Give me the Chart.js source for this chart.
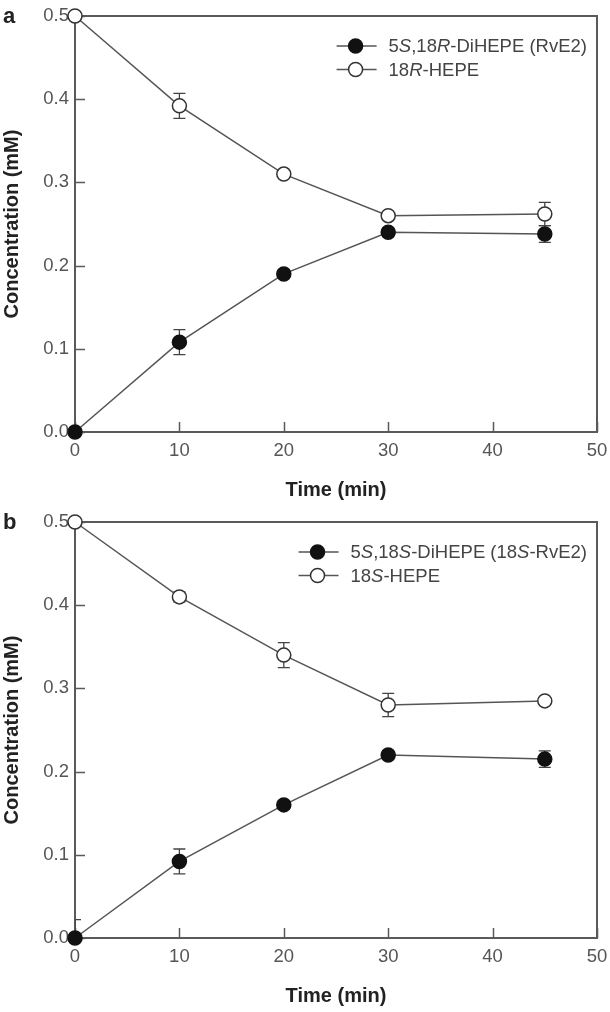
<!DOCTYPE html>
<html>
<head>
<meta charset="utf-8">
<script src="https://cdn.jsdelivr.net/npm/chart.js@4.4.1/dist/chart.umd.min.js"></script>
<style>
  html, body { margin: 0; padding: 0; background: #fff; }
  .panel { position: absolute; left: 0; width: 610px; height: 506px; }
</style>
</head>
<body>
<div class="panel" style="top:0"><canvas id="chartA" width="610" height="506"></canvas></div>
<div class="panel" style="top:506px"><canvas id="chartB" width="610" height="506"></canvas></div>
<script>
// sampling times (min)
const times = [0, 10, 20, 30, 45];

// panel a
const rveA     = [0, 0.108, 0.19, 0.24, 0.238];
const rveAErr  = [0, 0.015, 0.005, 0.005, 0.01];
const hepeA    = [0.5, 0.392, 0.31, 0.26, 0.262];
const hepeAErr = [0, 0.015, 0.004, 0.004, 0.014];
const labelsA  = ["5<i>S</i>,18<i>R</i>-DiHEPE (RvE2)", "18<i>R</i>-HEPE"];

// panel b
const rveB     = [0, 0.092, 0.16, 0.22, 0.215];
const rveBErr  = [0.022, 0.015, 0.005, 0.005, 0.01];
const hepeB    = [0.5, 0.41, 0.34, 0.28, 0.285];
const hepeBErr = [0.003, 0.006, 0.015, 0.014, 0.003];
const labelsB  = ["5<i>S</i>,18<i>S</i>-DiHEPE (18<i>S</i>-RvE2)", "18<i>S</i>-HEPE"];

const xTicks = [0, 10, 20, 30, 40, 50];
const yTicks = [0, 0.1, 0.2, 0.3, 0.4, 0.5];

const FONT = "'Liberation Sans', Arial, Helvetica, sans-serif";
const AXIS = "#5a5a5a";
const LINE = "#555";

// splits "a<i>b</i>c" into [{t, italic}]
const parseRich = (s) =>
  s.split(/(<i>.*?<\/i>)/).filter(Boolean).map((p) =>
    p.startsWith("<i>") ? { t: p.slice(3, -4), italic: true } : { t: p, italic: false });

const richWidth = (ctx, parts, size) =>
  parts.reduce((w, p) => {
    ctx.font = `${p.italic ? "italic " : ""}${size}px ${FONT}`;
    return w + ctx.measureText(p.t).width;
  }, 0);

const drawRich = (ctx, parts, x, y, size) => {
  parts.forEach((p) => {
    ctx.font = `${p.italic ? "italic " : ""}${size}px ${FONT}`;
    ctx.fillText(p.t, x, y);
    x += ctx.measureText(p.t).width;
  });
};

const drawMarker = (ctx, x, y, filled) => {
  ctx.beginPath();
  ctx.arc(x, y, 7, 0, Math.PI * 2);
  ctx.fillStyle = filled ? "#111" : "#fff";
  ctx.fill();
  ctx.lineWidth = 1.5;
  ctx.strokeStyle = filled ? "#111" : "#333";
  ctx.stroke();
};

const makeChart = (id, letter, rve, rveErr, hepe, hepeErr, labels) => {
  const ctx = document.getElementById(id).getContext("2d");

  const decor = {
    id: "decor",
    beforeDatasetsDraw(chart) {
      const { ctx, chartArea: a, scales: { x, y } } = chart;
      ctx.save();
      // frame
      ctx.strokeStyle = AXIS;
      ctx.lineWidth = 2;
      ctx.strokeRect(a.left, a.top, a.right - a.left, a.bottom - a.top);
      // inward ticks
      ctx.lineWidth = 1.5;
      ctx.beginPath();
      xTicks.forEach((v) => {
        const px = Math.round(x.getPixelForValue(v)) + 0.5;
        ctx.moveTo(px, a.bottom);
        ctx.lineTo(px, a.bottom - 10);
      });
      yTicks.forEach((v) => {
        const py = Math.round(y.getPixelForValue(v)) + 0.5;
        ctx.moveTo(a.left, py);
        ctx.lineTo(a.left + 10, py);
      });
      ctx.stroke();
      // error bars (under markers)
      ctx.beginPath();
      ctx.rect(a.left, a.top - 20, a.right - a.left, a.bottom - a.top + 20);
      ctx.clip();
      ctx.strokeStyle = "#444";
      ctx.lineWidth = 1.3;
      [[rve, rveErr], [hepe, hepeErr]].forEach(([vals, errs]) => {
        vals.forEach((v, i) => {
          if (!errs[i]) return;
          const px = x.getPixelForValue(times[i]);
          const y1 = y.getPixelForValue(v + errs[i]);
          const y2 = y.getPixelForValue(v - errs[i]);
          ctx.beginPath();
          ctx.moveTo(px, y1); ctx.lineTo(px, y2);
          ctx.moveTo(px - 6, y1); ctx.lineTo(px + 6, y1);
          ctx.moveTo(px - 6, y2); ctx.lineTo(px + 6, y2);
          ctx.stroke();
        });
      });
      ctx.restore();
    },
    afterDraw(chart) {
      const { ctx, chartArea: a } = chart;
      ctx.save();
      // panel letter
      ctx.fillStyle = "#222";
      ctx.font = `bold 22px ${FONT}`;
      ctx.textBaseline = "alphabetic";
      ctx.fillText(letter, 3, a.top + 7);
      // legend
      const size = 18.5;
      const parts = labels.map(parseRich);
      const textW = Math.max(...parts.map((p) => richWidth(ctx, p, size)));
      const left = a.right - 10 - textW - 52;
      parts.forEach((p, i) => {
        const ly = a.top + 30 + i * 23.5;
        ctx.strokeStyle = LINE;
        ctx.lineWidth = 1.5;
        ctx.beginPath();
        ctx.moveTo(left, ly);
        ctx.lineTo(left + 40, ly);
        ctx.stroke();
        drawMarker(ctx, left + 19, ly, i === 0);
        ctx.fillStyle = "#444";
        ctx.textBaseline = "middle";
        drawRich(ctx, p, left + 52, ly + 1, size);
      });
      ctx.restore();
    },
  };

  const pts = (vals) => vals.map((v, i) => ({ x: times[i], y: v }));

  return new Chart(ctx, {
    type: "line",
    data: {
      datasets: [
        {
          label: "rve",
          data: pts(rve),
          borderColor: LINE,
          borderWidth: 1.5,
          pointRadius: 7,
          pointBackgroundColor: "#111",
          pointBorderColor: "#111",
          pointBorderWidth: 1.5,
          clip: false,
        },
        {
          label: "hepe",
          data: pts(hepe),
          borderColor: LINE,
          borderWidth: 1.5,
          pointRadius: 7,
          pointBackgroundColor: "#fff",
          pointBorderColor: "#333",
          pointBorderWidth: 1.5,
          clip: false,
        },
      ],
    },
    options: {
      responsive: false,
      animation: false,
      events: [],
      layout: { padding: { top: 16, right: 13, left: 0, bottom: 0 } },
      plugins: { legend: { display: false }, tooltip: { enabled: false } },
      scales: {
        x: {
          type: "linear",
          min: 0,
          max: 50,
          afterBuildTicks: (s) => { s.ticks = xTicks.map((v) => ({ value: v })); },
          afterFit: (s) => { s.height = 74; s.paddingLeft = 0; s.paddingRight = 0; },
          grid: { display: false, drawTicks: false },
          border: { display: false },
          ticks: { color: "#555", padding: 8, font: { size: 18.5, family: FONT } },
          title: {
            display: true,
            text: "Time (min)",
            color: "#222",
            padding: { top: 0, bottom: 4 },
            font: { size: 20, weight: "bold", family: FONT },
          },
        },
        y: {
          type: "linear",
          min: 0,
          max: 0.5,
          afterBuildTicks: (s) => { s.ticks = yTicks.map((v) => ({ value: v })); },
          afterFit: (s) => { s.width = 75; s.paddingTop = 0; s.paddingBottom = 0; },
          grid: { display: false, drawTicks: false },
          border: { display: false },
          ticks: {
            color: "#555",
            padding: 6,
            font: { size: 18.5, family: FONT },
            callback: (v) => v.toFixed(1),
          },
          title: {
            display: true,
            text: "Concentration (mM)",
            color: "#222",
            padding: 0,
            font: { size: 20, weight: "bold", family: FONT },
          },
        },
      },
    },
    plugins: [decor],
  });
};

makeChart("chartA", "a", rveA, rveAErr, hepeA, hepeAErr, labelsA);
makeChart("chartB", "b", rveB, rveBErr, hepeB, hepeBErr, labelsB);
</script>
</body>
</html>
